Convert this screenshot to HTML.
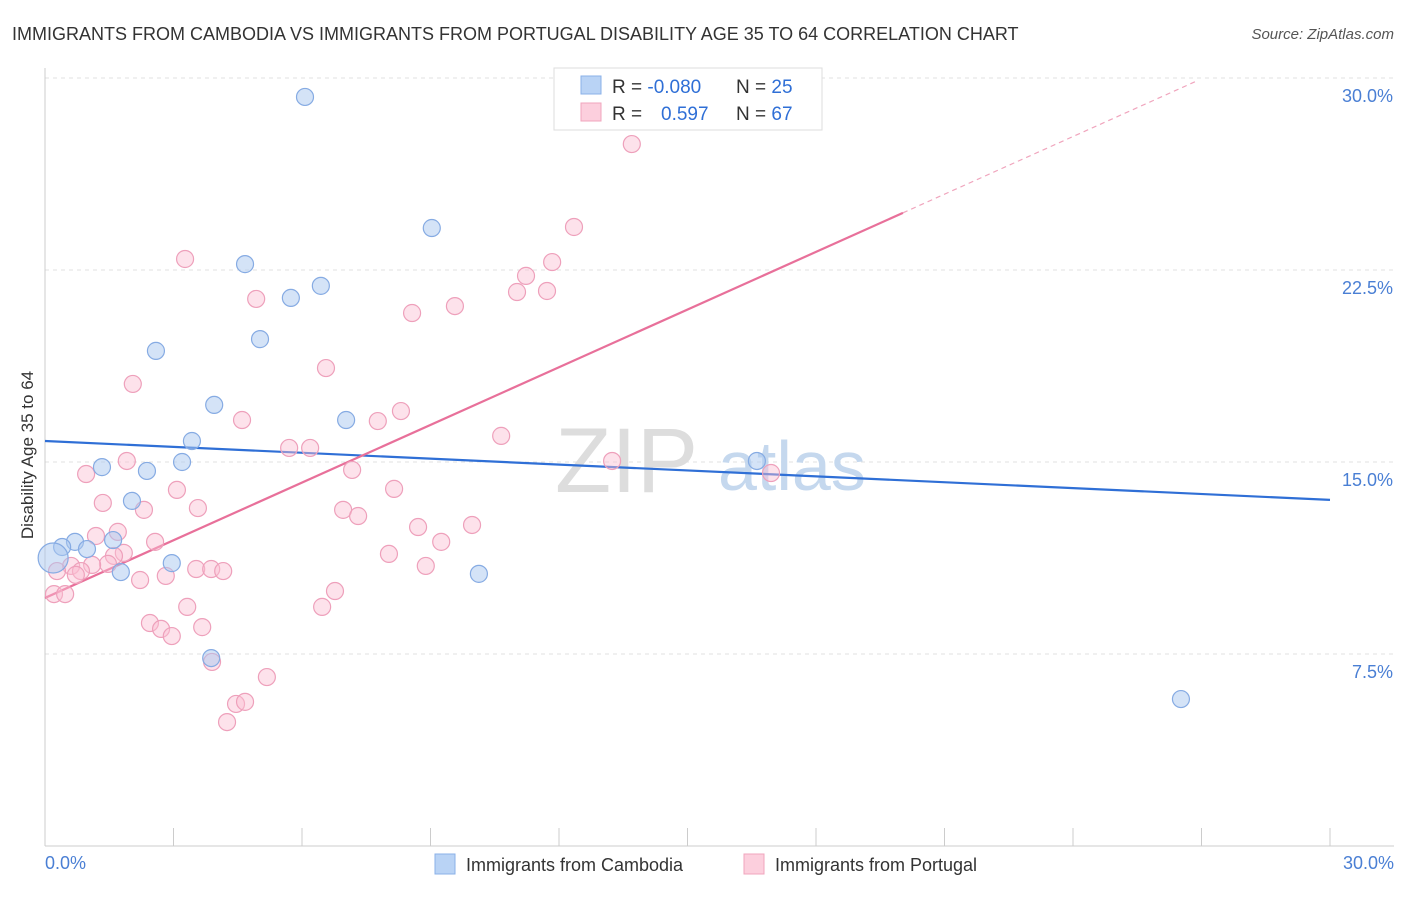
<!DOCTYPE html>
<html><head><meta charset="utf-8"><style>
body{margin:0;background:#fff;font-family:"Liberation Sans",sans-serif;}
svg text{font-family:"Liberation Sans",sans-serif;}
</style></head><body>
<svg id="chart" width="1406" height="892">
<text x="12" y="40" font-size="18" fill="#333">IMMIGRANTS FROM CAMBODIA VS IMMIGRANTS FROM PORTUGAL DISABILITY AGE 35 TO 64 CORRELATION CHART</text>
<text x="1394" y="39" font-size="15" fill="#555" font-style="italic" text-anchor="end">Source: ZipAtlas.com</text>
<g id="grid"></g>
<text x="555" y="492" font-size="92" fill="#ddd" font-family="Liberation Serif">ZIP</text>
<text x="718" y="490" font-size="70" fill="#c5d8ee">atlas</text>
<line x1="45" y1="68" x2="45" y2="846" stroke="#ccc"/>
<line x1="45" y1="846" x2="1394" y2="846" stroke="#ccc"/>
<g id="ticks"></g>
<g id="lines"></g>
<g id="pts"></g>
<text transform="translate(33,455) rotate(-90)" font-size="17" fill="#333" text-anchor="middle">Disability Age 35 to 64</text>
<text x="45" y="869" font-size="18" fill="#4a7fd4">0.0%</text>
<text x="1394" y="869" font-size="18" fill="#4a7fd4" text-anchor="end">30.0%</text>
<g>
<rect x="554" y="68" width="268" height="62" fill="#fff" stroke="#ddd"/>
<rect x="581" y="76" width="20" height="18" fill="#b9d3f5" stroke="#8ab0e8"/>
<rect x="581" y="103" width="20" height="18" fill="#fccfdd" stroke="#f0a5bd"/>
<text x="612" y="93" font-size="19" fill="#333">R = <tspan fill="#2f6fd6">-0.080</tspan></text>
<text x="736" y="93" font-size="19" fill="#333">N = <tspan fill="#2f6fd6">25</tspan></text>
<text x="612" y="120" font-size="19" fill="#333">R = <tspan fill="#2f6fd6" x="661">0.597</tspan></text>
<text x="736" y="120" font-size="19" fill="#333">N = <tspan fill="#2f6fd6">67</tspan></text>
</g>
<g>
<rect x="435" y="854" width="20" height="20" fill="#b9d3f5" stroke="#8ab0e8"/>
<text x="466" y="871" font-size="18" fill="#333">Immigrants from Cambodia</text>
<rect x="744" y="854" width="20" height="20" fill="#fccfdd" stroke="#f0a5bd"/>
<text x="775" y="871" font-size="18" fill="#333">Immigrants from Portugal</text>
</g>
</svg>
<script>
const yTicks=[7.5,15,22.5,30];
const yTickLabels=["7.5%","15.0%","22.5%","30.0%"];
const xTickVals=[0,3,6,9,12,15,18,21,24,27,30];
const camX=[6.07,9.03,4.67,5.74,6.44,5.02,2.59,3.95,7.03,3.43,3.20,1.33,2.38,2.03,1.59,0.70,0.40,0.98,1.77,2.96,0.19,10.13,3.88,16.62,26.52];
const camY=[29.26,24.14,22.73,21.41,21.88,19.80,19.34,17.23,16.64,15.82,15.0,14.80,14.65,13.48,11.95,11.88,11.68,11.60,10.70,11.05,11.25,10.63,7.34,15.04,5.74];
const porX=[13.70,12.35,3.27,11.84,11.23,11.02,11.72,4.93,9.57,8.57,6.56,2.05,8.31,7.77,4.60,10.65,5.70,6.19,1.91,7.17,13.24,16.95,0.96,3.08,8.15,1.35,2.31,3.57,6.96,7.31,8.71,9.97,1.70,1.19,2.57,9.25,1.84,1.61,8.03,1.47,1.10,0.61,0.28,0.84,2.82,3.53,3.88,4.16,8.89,2.22,0.72,6.77,0.21,0.47,6.47,3.32,2.45,2.71,2.96,3.67,3.90,5.18,4.46,4.67,4.25,14.10];
const porY=[27.42,24.18,22.93,22.81,22.27,21.64,21.68,21.37,21.09,20.82,18.67,18.05,16.99,16.60,16.64,16.02,15.55,15.55,15.04,14.69,15.04,14.57,14.53,13.91,13.95,13.40,13.13,13.20,13.13,12.89,12.46,12.54,12.27,12.11,11.88,11.88,11.45,11.33,11.41,11.02,10.98,10.94,10.74,10.74,10.55,10.82,10.82,10.74,10.94,10.39,10.59,9.96,9.84,9.84,9.34,9.34,8.71,8.48,8.20,8.55,7.19,6.60,5.55,5.63,4.84,28.87];
const camTrend=[15.82,13.52];
const porTrend=[9.69,0.751];
const X=v=>45+v/30*1285, Y=v=>846-v/7.5*192;
const NS="http://www.w3.org/2000/svg";
function mk(t,a,p){const e=document.createElementNS(NS,t);for(const k in a)e.setAttribute(k,a[k]);document.getElementById(p).appendChild(e);return e;}
yTicks.forEach((t,i)=>{
 const l=mk('line',{x1:45,x2:1394,y1:Y(t),y2:Y(t),stroke:'#e2e2e2','stroke-dasharray':'4,4'},'grid');
 
 
 const tx=mk('text',{x:1393,y:Y(t)+24,'font-size':18,fill:'#4a7fd4','text-anchor':'end'},'grid');
 tx.textContent=yTickLabels[i];
 
 
});
xTickVals.forEach(v=>{
 const l=mk('line',{x1:X(v),x2:X(v),y1:828,y2:846,stroke:'#ccc'},'ticks');
 
 
});
let l1=mk('line',{x1:X(0),y1:Y(camTrend[0]),x2:X(30),y2:Y(camTrend[1]),stroke:'#2f6fd6','stroke-width':2.2},'lines');


const pe=20.03, pd=26.85;
let l2=mk('line',{x1:X(0),y1:Y(porTrend[0]),x2:X(pe),y2:Y(porTrend[0]+porTrend[1]*pe),stroke:'#e8709a','stroke-width':2.2},'lines');


let l3=mk('line',{x1:X(pe),y1:Y(porTrend[0]+porTrend[1]*pe),x2:X(pd),y2:Y(porTrend[0]+porTrend[1]*pd),stroke:'#f0a5bd','stroke-width':1.2,'stroke-dasharray':'5,4'},'lines');


porX.forEach((x,i)=>{
 const c=mk('circle',{cx:X(x),cy:Y(porY[i]),r:8.5,fill:'rgba(250,190,210,0.45)',stroke:'#eea0bb','stroke-width':1.2},'pts');
 
 
});
camX.forEach((x,i)=>{
 const c=mk('circle',{cx:X(x),cy:Y(camY[i]),r:i==20?15:8.5,fill:'rgba(170,200,240,0.5)',stroke:'#86abe3','stroke-width':1.2},'pts');
 
 
});
</script>
</body></html>
